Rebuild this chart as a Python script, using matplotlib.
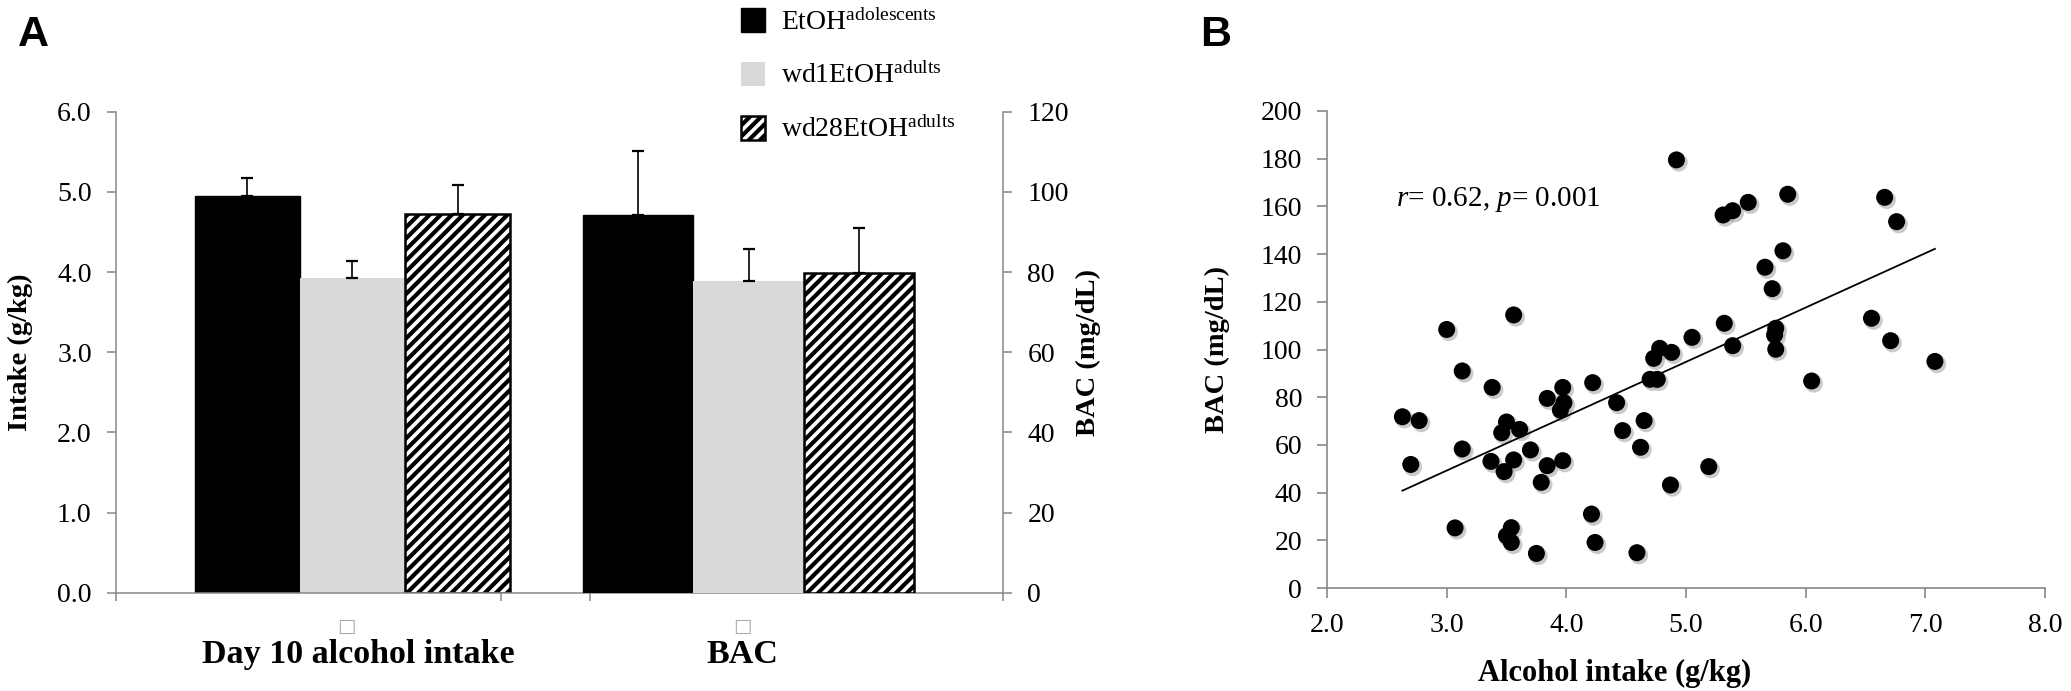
import numpy as np
import matplotlib
matplotlib.use("Agg")
import matplotlib.pyplot as plt
import matplotlib.transforms as mtransforms
from matplotlib.patches import Patch

plt.rcParams['font.family'] = ['Liberation Serif', 'DejaVu Serif']
plt.rcParams['mathtext.fontset'] = 'custom'
plt.rcParams['mathtext.rm'] = 'Liberation Serif'
plt.rcParams['mathtext.it'] = 'Liberation Serif:italic'
plt.rcParams['mathtext.bf'] = 'Liberation Serif:bold'
plt.rcParams['hatch.linewidth'] = 3.0
plt.rcParams['hatch.color'] = 'black'

# ---- panel A data ----
groups = ['EtOH$^{\\mathrm{adolescents}}$', 'wd1EtOH$^{\\mathrm{adults}}$', 'wd28EtOH$^{\\mathrm{adults}}$']
categories = ['Day 10 alcohol intake', 'BAC']
intake = [4.95, 3.92, 4.72]
intake_err = [0.22, 0.22, 0.36]
bac = [94.2, 77.8, 79.7]
bac_err = [16.1, 8.0, 11.4]

# ---- panel B data ----
alc_intake = [2.63, 2.77, 2.70, 3.00, 3.07, 3.13, 3.13, 3.38, 3.37, 3.56,
              3.50, 3.46, 3.61, 3.56, 3.48, 3.70, 3.84, 3.79, 3.84, 3.97,
              3.98, 3.95, 3.97, 3.54, 3.50, 3.54, 3.75, 4.22, 4.42, 4.47,
              4.21, 4.24, 4.59, 4.92, 5.85, 5.52, 5.39, 5.31, 6.66, 6.76,
              5.81, 5.66, 5.72, 6.55, 6.71, 7.08, 5.32, 5.05, 5.39, 5.75,
              5.74, 5.75, 4.78, 4.88, 4.73, 4.70, 4.76, 6.05, 4.65, 4.62,
              5.19, 4.87]
bac_vals = [71.8, 70.2, 51.8, 108.4, 25.2, 91.0, 58.3, 84.1, 53.1, 114.5,
            69.6, 65.1, 66.5, 53.7, 48.8, 57.9, 51.3, 44.3, 79.5, 84.1,
            77.7, 74.6, 53.4, 25.3, 21.9, 19.1, 14.5, 86.1, 77.7, 66.0,
            31.0, 19.1, 14.8, 179.5, 165.1, 161.7, 158.2, 156.4, 163.8, 153.6,
            141.4, 134.5, 125.5, 113.1, 103.7, 95.0, 111.0, 105.1, 101.6, 108.9,
            106.1, 100.1, 100.5, 98.8, 96.3, 87.5, 87.5, 86.8, 70.2, 59.0,
            50.9, 43.2]
stat_text = '$\\it{r}$= 0.62, $\\it{p}$= 0.001'

axis_col = '#888888'
W, H = 2071, 691
fig = plt.figure(figsize=(W / 100, H / 100), dpi=100)

# ================= panel A =================
ax = fig.add_axes([116 / W, 1 - 592.7 / H, 887 / W, 481 / H])
ax2 = ax.twinx()

bar_styles = [dict(color='black', edgecolor='black', linewidth=1.0),
              dict(color='#d9d9d9', edgecolor='none', linewidth=0),
              dict(facecolor='white', edgecolor='black', linewidth=1.8, hatch='///')]

w1, c1 = 0.1187, 0.2666
w2, c2 = 0.1244, 0.7131
err_kw = dict(ecolor='black', elinewidth=1.2, capsize=4.5, capthick=1.6)
for i in range(3):
    ax.bar(c1 + (i - 1) * w1, intake[i], w1, yerr=[[0], [intake_err[i]]],
           error_kw=err_kw, **bar_styles[i])
    ax2.bar(c2 + (i - 1) * w2, bac[i], w2, yerr=[[0], [bac_err[i]]],
            error_kw=err_kw, **bar_styles[i])

ax.set_xlim(0, 1)
ax.set_ylim(0, 6)
ax2.set_ylim(0, 120)
ax.set_yticks(np.arange(0, 6.1, 1.0))
ax.set_yticklabels([f'{v:.1f}' for v in np.arange(0, 6.1, 1.0)])
ax2.set_yticks(np.arange(0, 121, 20))
ax.set_xticks([0, 0.434, 0.534, 1.0])
ax.set_xticklabels([])
ax.set_xticks([0.273, 0.706], categories, minor=True)
ax.tick_params(axis='x', which='minor', length=0, pad=33, labelsize=24.5)
for lab in ax.get_xticklabels(minor=True):
    lab.set_fontweight('bold')
for x in [0.260, 0.706]:
    ax.text(x, -0.07, '\u25a1', transform=ax.transAxes, ha='center', va='center',
            fontsize=14, color='#aaaaaa', family='DejaVu Sans')

for a in (ax, ax2):
    for s in a.spines.values():
        s.set_visible(False)
ax.spines['left'].set_visible(True)
ax.spines['bottom'].set_visible(True)
ax2.spines['right'].set_visible(True)
for a in (ax, ax2):
    for s in a.spines.values():
        s.set_color(axis_col)
        s.set_linewidth(1.1)
ax.tick_params(axis='both', which='major', direction='out', length=6.5, width=1.1,
               color=axis_col, labelsize=20, pad=11)
ax.tick_params(axis='x', which='major', length=5.5)
ax2.tick_params(axis='y', direction='out', length=6.5, width=1.1, color=axis_col,
                labelsize=20, pad=11)

ax.set_ylabel('Intake (g/kg)', fontsize=20.5, fontweight='bold', va='center')
ax.yaxis.set_label_coords(-0.108, 0.5)
ax2.set_ylabel('BAC (mg/dL)', fontsize=20.5, fontweight='bold', va='center')
ax2.yaxis.set_label_coords(1.096, 0.5)

handles = [Patch(**bar_styles[i]) for i in range(3)]
fig.legend(handles, groups, loc='upper left', bbox_to_anchor=(741 / W, 1 - 8 / H),
           frameon=False, fontsize=20, handlelength=0.85, handleheight=0.95,
           handletextpad=0.6, labelspacing=0.95, borderpad=0, borderaxespad=0)

fig.text(18 / W, 1 - 46 / H, 'A', family='Liberation Sans', fontweight='bold',
         fontsize=31, va='baseline')

# ================= panel B =================
bx = fig.add_axes([1327 / W, 1 - 588 / H, 718 / W, 477 / H])
xv = np.array(alc_intake)
yv = np.array(bac_vals)
shadow = bx.transData + mtransforms.ScaledTranslation(1.5 / 72, -1.8 / 72, fig.dpi_scale_trans)
bx.scatter(xv, yv, s=175, color='#a0a0a0', alpha=0.55, edgecolors='none',
           transform=shadow, zorder=2, clip_on=False)
bx.scatter(xv, yv, s=150, color='black', edgecolors='none', zorder=3, clip_on=False)
k, b = np.polyfit(xv, yv, 1)
xs = np.array([xv.min(), xv.max()])
bx.plot(xs, k * xs + b, color='black', lw=1.3, zorder=4)

bx.set_xlim(2, 8)
bx.set_ylim(0, 200)
bx.set_xticks(np.arange(2, 8.1, 1.0))
bx.set_xticklabels([f'{v:.1f}' for v in np.arange(2, 8.1, 1.0)])
bx.set_yticks(np.arange(0, 201, 20))
for s in ['top', 'right']:
    bx.spines[s].set_visible(False)
for s in ['left', 'bottom']:
    bx.spines[s].set_color(axis_col)
    bx.spines[s].set_linewidth(1.2)
bx.tick_params(axis='both', direction='out', length=7, width=1.2, color=axis_col,
               labelsize=20, pad=11)

bx.set_ylabel('BAC (mg/dL)', fontsize=20.5, fontweight='bold', va='center')
bx.yaxis.set_label_coords(-0.152, 0.5)
bx.set_xlabel('Alcohol intake (g/kg)', fontsize=22, fontweight='bold', va='center')
bx.xaxis.set_label_coords(0.40, -0.18)

bx.text(2.58, 163, stat_text, fontsize=21, ha='left', va='center')

fig.text(1200 / W, 1 - 46 / H, 'B', family='Liberation Sans', fontweight='bold',
         fontsize=31, va='baseline')

fig.savefig('out.png', dpi=100)
